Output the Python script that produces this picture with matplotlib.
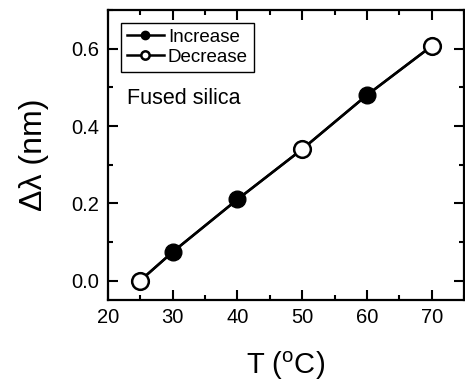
import matplotlib
matplotlib.use("Agg")
import matplotlib.pyplot as plt
from matplotlib.ticker import MultipleLocator

plt.rcParams["font.family"] = ["Liberation Sans", "DejaVu Sans"]

# temperature points and wavelength shift
temps = [25, 30, 40, 50, 60, 70]
shift = [0.0, 0.074, 0.21, 0.34, 0.48, 0.607]
increase_idx = [1, 2, 4]
decrease_idx = [0, 3, 5]

fig = plt.figure(figsize=(4.65, 3.89), dpi=100)
ax = fig.add_axes([0.232, 0.229, 0.766, 0.745])

ax.plot(temps, shift, "-o", color="black", lw=1.8, ms=12,
        markevery=increase_idx, mfc="black", mec="black", label="Increase")
ax.plot(temps, shift, "-o", color="black", lw=1.8, ms=12, mew=1.8,
        markevery=decrease_idx, mfc="white", mec="black", label="Decrease")

ax.set_xlim(20, 75)
ax.set_ylim(-0.05, 0.7)
ax.set_xticks([20, 30, 40, 50, 60, 70])
ax.set_yticks([0.0, 0.2, 0.4, 0.6])
ax.xaxis.set_minor_locator(MultipleLocator(5))
ax.yaxis.set_minor_locator(MultipleLocator(0.1))
ax.tick_params(which="both", direction="in", top=True, right=True, width=1.5)
ax.tick_params(which="major", length=7, labelsize=14.5, pad=6)
ax.tick_params(which="minor", length=3.5)
for s in ax.spines.values():
    s.set_linewidth(1.6)

ax.set_xlabel("T ($\\mathregular{^{o}}$C)", fontsize=21, labelpad=16)
ax.set_ylabel("Δλ (nm)", fontsize=23, labelpad=16)

ax.text(0.053, 0.676, "Fused silica", transform=ax.transAxes, fontsize=15.5,
        va="baseline")

leg = ax.legend(loc="upper left", fontsize=13.5, markerscale=0.5,
                handlelength=2.0, handletextpad=0.2, borderpad=0.3,
                labelspacing=0.15, borderaxespad=0.7, fancybox=False,
                framealpha=1, edgecolor="black")
leg.get_frame().set_linewidth(1.0)

fig.savefig("out.png", dpi=100)
